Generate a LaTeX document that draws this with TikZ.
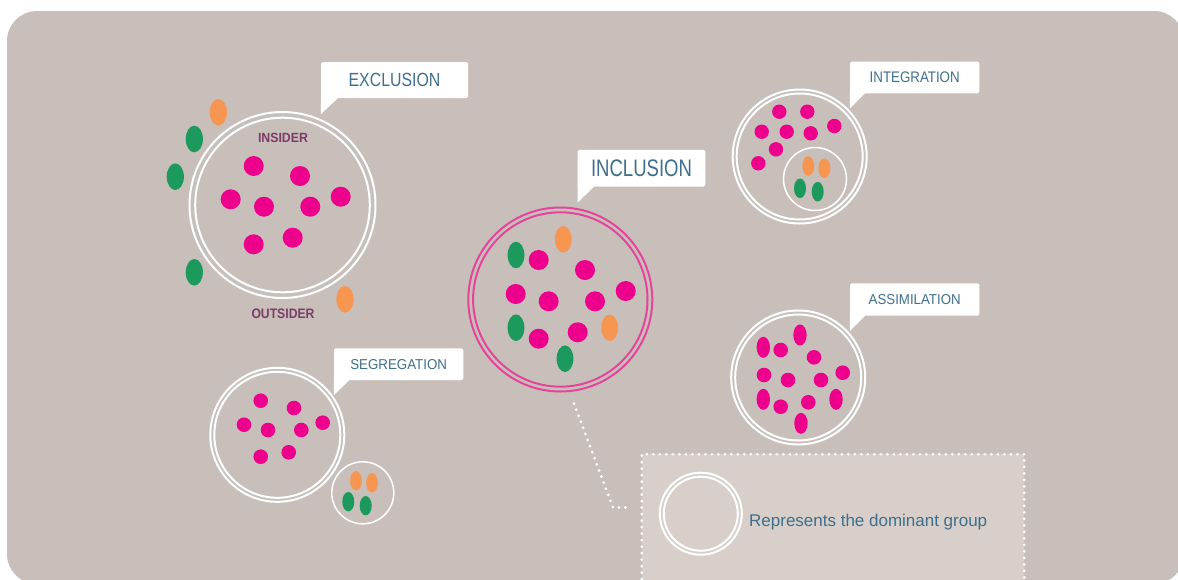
\documentclass[tikz,border=0pt]{standalone}
\usepackage{fontspec}
\setmainfont{Liberation Sans}
\usepackage{graphicx}
\definecolor{bgc}{HTML}{C9BFBA}
\definecolor{legc}{HTML}{D8CFCA}
\definecolor{dotpk}{HTML}{EC008C}
\definecolor{dotgr}{HTML}{1C9A5E}
\definecolor{dotog}{HTML}{F79651}
\definecolor{ringpk}{HTML}{E5449B}
\definecolor{labblue}{HTML}{3E6F8D}
\definecolor{tagpurple}{HTML}{7D3B68}
\newcommand\capl[3]{\resizebox{#1pt}{#2pt}{#3}}
\newcommand\ctail[3]{\fill[white] (#1.south west) ++(0,-3) -- ++(0,#2+3) -- ++(#3,-#2) -- ++(0,-3) -- cycle;}
\begin{document}
\begin{tikzpicture}[x=1pt,y=-1pt,
  ring/.style={draw=white, line width=2pt},
  thinring/.style={draw=white, line width=1.5pt},
  pring/.style={draw=ringpk, line width=2pt},
  pk/.style={fill=dotpk},
  gr/.style={fill=dotgr},
  og/.style={fill=dotog},
  callout/.style={fill=white, rounded corners=1.5pt, inner sep=0pt, text=labblue},
  tag/.style={text=tagpurple, inner sep=0pt, font=\bfseries},
  dotline/.style={draw=white, line width=3pt, line cap=round, dash pattern=on 0pt off 6.5pt}]
\fill[white] (0,0) rectangle (1178,579);
\useasboundingbox (0,0) rectangle (1178,579);
\fill[bgc, rounded corners=30pt] (7,11) rectangle (1184,584);

% ---------- EXCLUSION ----------
\coordinate (exC) at (282.5,205);
\draw[ring] (exC) circle[radius=93];
\draw[ring] (exC) circle[radius=87.3];
\foreach \x/\y in {253.7/166,300/176,230.7/199.3,264/206.7,310.3/206.7,340.7/196.7,253.7/244.3,292.7/237.7}
  \fill[pk] (\x,\y) circle[radius=10];
\fill[og] (218.3,112.3) ellipse[x radius=8.6,y radius=13.3];
\fill[gr] (194.3,139) ellipse[x radius=8.6,y radius=13.3];
\fill[gr] (175.3,176.7) ellipse[x radius=8.6,y radius=13.3];
\fill[gr] (194.3,272.3) ellipse[x radius=8.6,y radius=13.3];
\fill[og] (345,299.3) ellipse[x radius=8.6,y radius=13.3];
\node[tag] (ins) at (283,138) {\capl{50}{9.3}{INSIDER}};
\node[tag] (outs) at (283,313.3) {\capl{63}{9.6}{OUTSIDER}};
\node[callout, minimum width=147pt, minimum height=36pt] (exL) at (394.5,80) {\capl{91.7}{13.3}{EXCLUSION}};
\ctail{exL}{16}{17}

% ---------- INCLUSION ----------
\coordinate (inC) at (560.3,299.5);
\draw[pring] (inC) circle[radius=92];
\draw[pring] (inC) circle[radius=87.2];
\foreach \x/\y in {538.7/260,585/270,515.7/294,548.7/301.3,595/301.3,625.7/291,538.7/338.7,577.7/332.3}
  \fill[pk] (\x,\y) circle[radius=10];
\fill[og] (563.3,239.3) ellipse[x radius=8.4,y radius=13.3];
\fill[gr] (516,255) ellipse[x radius=8.4,y radius=13.3];
\fill[gr] (516,327.7) ellipse[x radius=8.4,y radius=13.3];
\fill[og] (609.7,327.7) ellipse[x radius=8.4,y radius=13.3];
\fill[gr] (565,358.7) ellipse[x radius=8.4,y radius=13.3];
\node[callout, minimum width=127.6pt, minimum height=36.7pt] (inL) at (641.5,168.3) {\capl{101}{16.7}{INCLUSION}};
\ctail{inL}{16}{16.3}

% ---------- INTEGRATION ----------
\coordinate (itC) at (799.7,156.5);
\draw[ring] (itC) circle[radius=67];
\draw[ring] (itC) circle[radius=63];
\coordinate (itS) at (815,179);
\draw[thinring] (itS) circle[radius=31.5];
\foreach \x/\y in {779.3/111.7,807.3/111.7,761.7/131.7,786.7/131.7,810.7/133.3,834.3/126,776/149.3,758.3/163.3}
  \fill[pk] (\x,\y) circle[radius=7.2];
\fill[og] (808.3,166) ellipse[x radius=6,y radius=9.8];
\fill[og] (824.3,168.3) ellipse[x radius=6,y radius=9.8];
\fill[gr] (800,188.3) ellipse[x radius=6,y radius=9.8];
\fill[gr] (817.7,191.7) ellipse[x radius=6,y radius=9.8];
\node[callout, minimum width=129.3pt, minimum height=31.6pt] (itL) at (914.7,77.5) {\capl{90}{10.7}{INTEGRATION}};
\ctail{itL}{15}{15}

% ---------- SEGREGATION ----------
\coordinate (sgC) at (277.3,434.8);
\draw[ring] (sgC) circle[radius=67];
\draw[ring] (sgC) circle[radius=63];
\coordinate (sgS) at (362.8,492.8);
\draw[thinring] (sgS) circle[radius=31];
\foreach \x/\y in {260.7/400.7,294/408,244/424.7,268/430,301.3/430,322.7/422.7,260.7/456.7,288.7/452.3}
  \fill[pk] (\x,\y) circle[radius=7.3];
\fill[og] (356,480.7) ellipse[x radius=5.9,y radius=9.7];
\fill[og] (372,482.7) ellipse[x radius=5.9,y radius=9.7];
\fill[gr] (348.3,501.7) ellipse[x radius=6,y radius=9.7];
\fill[gr] (365.7,505.7) ellipse[x radius=6,y radius=9.7];
\node[callout, minimum width=129.3pt, minimum height=31.7pt] (sgL) at (398.7,364.2) {\capl{96.7}{10}{SEGREGATION}};
\ctail{sgL}{15}{15.3}

% ---------- ASSIMILATION ----------
\coordinate (asC) at (798.2,377.5);
\draw[ring] (asC) circle[radius=67];
\draw[ring] (asC) circle[radius=63];
\foreach \x/\y in {780.7/350,814/357.3,764/375,788/380,821/380,842.7/372.7,780.7/406.7,808.3/402.3}
  \fill[pk] (\x,\y) circle[radius=7.3];
\foreach \x/\y in {763.3/347.3,800/335,763.3/399.3,836/399.3,801/423.3}
  \fill[pk] (\x,\y) ellipse[x radius=6.7,y radius=10.5];
\node[callout, minimum width=129.3pt, minimum height=32.4pt] (asL) at (914.7,299.5) {\capl{92}{10}{ASSIMILATION}};
\ctail{asL}{15}{15}

% ---------- LEGEND ----------
\node[fill=legc, dotline, minimum width=382.6pt, minimum height=150pt, inner sep=0pt] (leg) at (833,529.3) {};
\coordinate (lgC) at (700.8,513.7);
\draw[ring] (lgC) circle[radius=41];
\draw[ring] (lgC) circle[radius=37];
\node[anchor=base west, text=labblue, inner sep=0pt] (legtxt) at (749,526.7)
  {\fontsize{17}{20}\selectfont\resizebox{238pt}{!}{Represents the dominant group}};
\coordinate (c0) at (574,403.5);
\coordinate (c1) at (613,507.5);
\draw[dotline] (c0) -- (c1) -- ([xshift=-9pt]leg.west |- c1);
\end{tikzpicture}
\end{document}
